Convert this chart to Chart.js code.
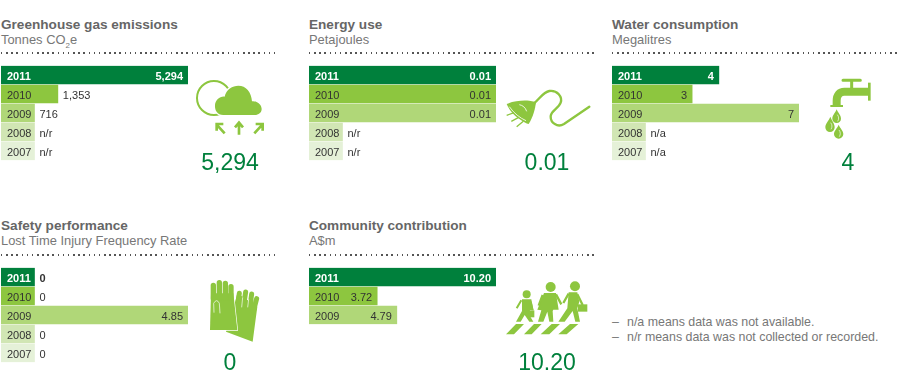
<!DOCTYPE html>
<html>
<head>
<meta charset="utf-8">
<title>Sustainability summary</title>
<script src="https://cdn.jsdelivr.net/npm/chart.js@4"></script>
<style>
    html, body { margin: 0; padding: 0; background: #fff; }
    body { width: 899px; height: 385px; position: relative; overflow: hidden; font-family: "Liberation Sans", Arial, sans-serif; }
    .title, .sub, .big, .note { position: absolute; white-space: nowrap; line-height: 16px; }
    .title { font-weight: bold; font-size: 13.6px; color: #666; }
    .sub { font-size: 12.9px; color: #777; }
    .sub sub { font-size: 8px; line-height: 0; }
    .dots { position: absolute; height: 1.5px; background: repeating-linear-gradient(to right, #555 0, #555 1.5px, transparent 1.5px, transparent 5.15px); }
    .big { font-size: 23px; line-height: 26px; color: #00803c; width: 100px; text-align: center; }
    .note { font-size: 12.4px; color: #777; }
    canvas { position: absolute; }
    svg { position: absolute; left: 0; top: 0; }
</style>
</head>
<body>

<div class="title" style="left:1px;top:17px">Greenhouse gas emissions</div>
<div class="sub" style="left:1px;top:32px">Tonnes CO<sub>2</sub>e</div>
<div class="dots" style="left:1px;top:52px;width:275px"></div>
<canvas id="emissions" width="187" height="96" style="left:1px;top:65px"></canvas>
<div class="big" style="left:180px;top:149px">5,294</div>

<div class="title" style="left:309px;top:17px">Energy use</div>
<div class="sub" style="left:309px;top:32px">Petajoules</div>
<div class="dots" style="left:309px;top:52px;width:288px"></div>
<canvas id="energy" width="187" height="96" style="left:309px;top:65px"></canvas>
<div class="big" style="left:497px;top:149px">0.01</div>

<div class="title" style="left:612px;top:17px">Water consumption</div>
<div class="sub" style="left:612px;top:32px">Megalitres</div>
<div class="dots" style="left:612px;top:52px;width:287px"></div>
<canvas id="water" width="187" height="96" style="left:612px;top:65px"></canvas>
<div class="big" style="left:798px;top:149px">4</div>

<div class="title" style="left:1px;top:218px">Safety performance</div>
<div class="sub" style="left:1px;top:233px">Lost Time Injury Frequency Rate</div>
<div class="dots" style="left:1px;top:254px;width:275px"></div>
<canvas id="safety" width="187" height="96" style="left:1px;top:267px"></canvas>
<div class="big" style="left:180px;top:349px">0</div>

<div class="title" style="left:309px;top:218px">Community contribution</div>
<div class="sub" style="left:309px;top:233px">A$m</div>
<div class="dots" style="left:309px;top:254px;width:288px"></div>
<canvas id="community" width="187" height="58" style="left:309px;top:267px"></canvas>
<div class="big" style="left:497px;top:349px">10.20</div>

<div class="note" style="left:612px;top:314px">–</div>
<div class="note" style="left:627px;top:314px">n/a means data was not available.</div>
<div class="note" style="left:612px;top:329px">–</div>
<div class="note" style="left:627px;top:329px">n/r means data was not collected or recorded.</div>

<svg width="899" height="385" fill="#8dc63f">
    <!-- cloud -->
    <g transform="translate(190,70) scale(.3333)">
        <circle cx="72" cy="84" r="51" fill="none" stroke="#8dc63f" stroke-width="6"/>
        <path d="M100,135 C80,135 74,118 75,105 C76,90 90,78 104,80 C108,58 128,47 145,47 C168,47 184,65 186,94 C202,92 215,105 215,117 C215,128 206,135 194,135 Z" stroke="#fff" stroke-width="8" paint-order="stroke"/>
        <path d="M104,190 L82,166 M80,182 L80,162 L100,162 M147,194 L147,160 M135,172 L147,158 L159,172 M193,190 L215,166 M197,162 L218,162 L218,182" fill="none" stroke="#8dc63f" stroke-width="8"/>
    </g>
    <!-- plug -->
    <g transform="translate(500,80) scale(.3333)">
        <path d="M100,72 C120,55 130,36 148,33 C172,30 188,50 182,68 C176,86 152,92 152,110 C152,128 172,144 192,132 L268,80" fill="none" stroke="#8dc63f" stroke-width="7" stroke-linecap="round"/>
        <path d="M20,72 C40,62 70,60 88,62 L108,66 C106,85 100,110 86,132 C72,128 32,104 20,72 Z"/>
        <path d="M28,80 C42,100 60,114 78,122 M58,74 C68,76 76,82 80,94" fill="none" stroke="#fff" stroke-width="2.5"/>
        <path d="M20,106 L42,98 M34,124 L56,112 M50,140 L70,124" fill="none" stroke="#8dc63f" stroke-width="4"/>
    </g>
    <!-- tap -->
    <g transform="translate(815,70) scale(.3333)">
        <path d="M84,31 L136,31 M110,31 L110,55" fill="none" stroke="#8dc63f" stroke-width="9" stroke-linecap="round"/>
        <path d="M163,38 L163,92" fill="none" stroke="#8dc63f" stroke-width="8"/>
        <path d="M160,65 L88,65 C74,65 65,75 65,92 L65,108" fill="none" stroke="#8dc63f" stroke-width="24"/>
        <path d="M46,108 L84,108" fill="none" stroke="#8dc63f" stroke-width="6"/>
        <path d="M65,118 C70,130 78,136 78,146 A13,13 0 0 1 52,146 C52,136 60,130 65,118 Z"/>
        <path d="M46,140 C51,153 59,160 59,172 A14,14 0 0 1 31,172 C31,160 41,153 46,140 Z"/>
        <path d="M71,164 C76,176 85,182 85,192 A14,14 0 0 1 57,192 C57,182 66,176 71,164 Z"/>
        <path d="M67,134 C72,140 72,148 68,154 M47,158 C52,164 52,172 48,178 M72,180 C77,186 77,194 73,200" fill="none" stroke="#fff" stroke-width="2"/>
    </g>
    <!-- gloves -->
    <g transform="translate(200,270) scale(.3333)">
        <path d="M78,185 L103,105 L112,70 L172,110 L158,215 Z"/>
        <path d="M113,105 L118,70 M131,105 L137,66 M150,110 L155,72 M160,125 L170,86" fill="none" stroke="#8dc63f" stroke-width="15" stroke-linecap="round"/>
        <path d="M125,112 L128,82 M143,112 L146,88" fill="none" stroke="#fff" stroke-width="2"/>
        <path d="M30,180 L33,70 L100,70 L112,180 Z" stroke="#fff" stroke-width="4" paint-order="stroke"/>
        <path d="M40,85 L40,46 M58,85 L58,38 M76,85 L76,40 M93,85 L93,50" fill="none" stroke="#8dc63f" stroke-width="16" stroke-linecap="round"/>
        <path d="M42,128 L41,100 Q50,84 58,100 L60,130" fill="none" stroke="#fff" stroke-width="2"/>
    </g>
    <!-- people on a crossing -->
    <g transform="translate(500,275) scale(.3333)">
        <circle cx="80" cy="58" r="12"/>
        <circle cx="152" cy="36" r="15"/>
        <circle cx="225" cy="34" r="15"/>
        <path d="M66,73 L94,73 L100,105 L90,105 L88,120 L100,140 L88,140 L74,120 L62,140 L48,140 L66,108 Z"/>
        <path d="M50,100 L64,76 M92,80 L98,106" fill="none" stroke="#8dc63f" stroke-width="6"/>
        <path d="M86,106 H103 V127 H86 Z"/>
        <path d="M132,54 L168,54 L176,104 L160,104 L158,108 L160,140 L148,140 L142,110 L130,140 L114,140 L124,106 L112,104 Z"/>
        <path d="M128,60 L116,92 M168,58 L184,88" fill="none" stroke="#8dc63f" stroke-width="7"/>
        <path d="M206,52 L232,52 L238,80 L232,100 L240,140 L226,140 L218,108 L194,140 L175,140 L202,100 Z"/>
        <path d="M206,56 L190,84 M232,58 L248,90" fill="none" stroke="#8dc63f" stroke-width="7"/>
        <path d="M234,88 H262 V110 H234 Z"/>
        <path d="M48,147 H72 L42,178 H18 Z M102,147 H125 L95,178 H72 Z M155,147 H180 L148,178 H122 Z M210,147 H235 L200,178 H175 Z"/>
    </g>
</svg>

<script>
// Data
const fiveYears = ['2011', '2010', '2009', '2008', '2007'];
const threeYears = ['2011', '2010', '2009'];
const yearColors = ['#00803c', '#8dc63f', '#b0d778', '#d1e6b4', '#e5f1d8'];

// n/r and n/a rows plot as 0, their bar is only the year cell.
// 2010 emissions: the bar in the picture reads about 1,610 against the axis although it is labelled 1,353.
const emissionsValues = [5294, 1610, 716, 0, 0];
const emissionsLabels = ['5,294', '1,353', '716', 'n/r', 'n/r'];

const energyValues = [0.01, 0.01, 0.01, 0, 0];
const energyLabels = ['0.01', '0.01', '0.01', 'n/r', 'n/r'];

const waterValues = [4, 3, 7, 0, 0];
const waterLabels = ['4', '3', '7', 'n/a', 'n/a'];

const safetyValues = [0, 0, 4.85, 0, 0];
const safetyLabels = ['0', '0', '4.85', '0', '0'];

const communityValues = [10.20, 3.72, 4.79];
const communityLabels = ['10.20', '3.72', '4.79'];

const fontFamily = '"Liberation Sans", Arial, sans-serif';
const yearCell = 33.5;

// Numbers sit inside the bar when they fit, otherwise just after it
const valueLabelPlugin = {
    id: 'valueLabels',
    afterDatasetsDraw: function( chart, args, opts ) {
        const ctx = chart.ctx;
        const bars = chart.getDatasetMeta(0).data;

        ctx.save();
        ctx.textBaseline = 'middle';
        bars.forEach(function( bar, i ) {
            ctx.font = ( i === 0 ? 'bold ' : '' ) + '11px ' + fontFamily;
            const text = opts.labels[i];
            const width = ctx.measureText(text).width;

            if ( bar.x - yearCell > width + 6 ) {
                ctx.fillStyle = i === 0 ? '#fff' : '#333';
                ctx.textAlign = 'right';
                ctx.fillText(text, bar.x - 5, bar.y + 1.5);
            } else {
                ctx.fillStyle = '#333';
                ctx.textAlign = 'left';
                ctx.fillText(text, bar.x + 5, bar.y + 1.5);
            }
        });
        ctx.restore();
    }
};

function barChart( id, years, values, labels ) {
    return new Chart(document.getElementById(id), {
        type: 'bar',
        data: {
            labels: years,
            datasets: [{
                data: values,
                backgroundColor: yearColors,
                barThickness: 18,
                minBarLength: yearCell
            }]
        },
        plugins: [valueLabelPlugin],
        options: {
            indexAxis: 'y',
            responsive: false,
            animation: false,
            layout: { padding: { top: 0.5, bottom: 0.5 } },
            plugins: {
                legend: { display: false },
                tooltip: { enabled: false },
                valueLabels: { labels: labels }
            },
            scales: {
                x: { display: false, min: 0, max: Math.max(...values) },
                y: {
                    grid: { display: false, drawTicks: false },
                    border: { display: false },
                    afterFit: function( scale ) {
                        scale.width = 0;
                        scale.paddingTop = 0;
                        scale.paddingBottom = 0;
                    },
                    ticks: {
                        mirror: true,
                        padding: 6,
                        labelOffset: 1.5,
                        z: 1,
                        autoSkip: false,
                        color: function( c ) { return c.index === 0 ? '#fff' : '#333'; },
                        font: function( c ) {
                            return { family: fontFamily, size: 11, weight: c.index === 0 ? 'bold' : 'normal' };
                        }
                    }
                }
            }
        }
    });
}

barChart('emissions', fiveYears, emissionsValues, emissionsLabels);
barChart('energy', fiveYears, energyValues, energyLabels);
barChart('water', fiveYears, waterValues, waterLabels);
barChart('safety', fiveYears, safetyValues, safetyLabels);
barChart('community', threeYears, communityValues, communityLabels);
</script>
</body>
</html>
